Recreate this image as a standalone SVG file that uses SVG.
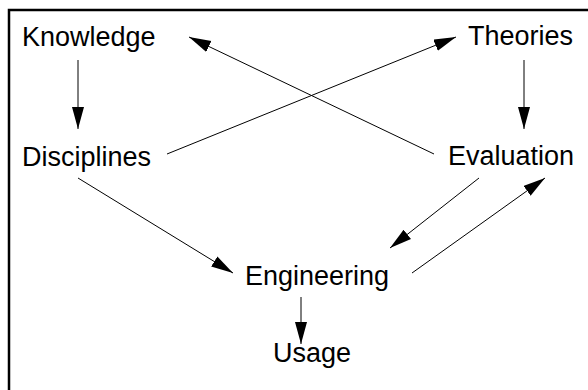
<svg xmlns="http://www.w3.org/2000/svg" width="588" height="390" viewBox="0 0 588 390">
<style>
.t{font-family:"Liberation Sans",Arial,sans-serif;font-size:27px;fill:#000}
.c{stroke:#000;stroke-width:1;fill:none;marker-end:url(#ah)}
</style>
<defs>
<marker id="ah" markerUnits="userSpaceOnUse" markerWidth="24" markerHeight="14" refX="22" refY="6" orient="auto" viewBox="0 0 24 14">
<path d="M0,0 L22,6 L0,12 z" fill="#000"/>
</marker>
</defs>
<rect width="588" height="390" fill="#fff"/>
<path d="M9,390 V10 H588" stroke="#000" stroke-width="2.5" fill="none"/>
<g id="knowledge"><text class="t" x="22" y="46">Knowledge</text></g>
<g id="theories"><text class="t" x="468" y="45">Theories</text></g>
<g id="disciplines"><text class="t" x="22" y="166">Disciplines</text></g>
<g id="evaluation"><text class="t" x="448" y="165">Evaluation</text></g>
<g id="engineering"><text class="t" x="245" y="285">Engineering</text></g>
<g id="usage"><text class="t" x="273" y="362">Usage</text></g>
<g id="connectors">
<line class="c" x1="78" y1="60" x2="78" y2="129"/>
<line class="c" x1="524" y1="60" x2="524" y2="129"/>
<line class="c" x1="167" y1="154" x2="456" y2="37"/>
<line class="c" x1="434" y1="154" x2="189" y2="37"/>
<line class="c" x1="78" y1="178" x2="233" y2="273"/>
<line class="c" x1="479" y1="178" x2="390" y2="248"/>
<line class="c" x1="412" y1="273" x2="545" y2="178"/>
<line class="c" x1="301" y1="297" x2="301" y2="344"/>
</g>
</svg>
